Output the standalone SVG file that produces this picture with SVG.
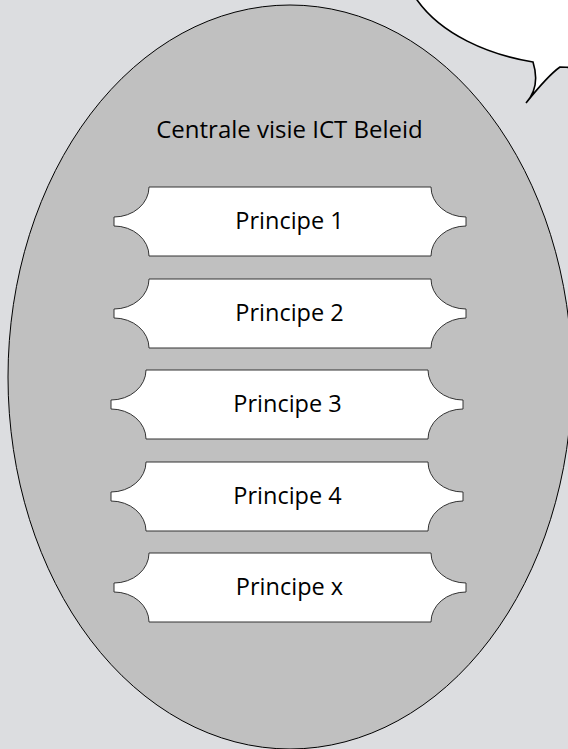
<svg xmlns="http://www.w3.org/2000/svg" xmlns:xlink="http://www.w3.org/1999/xlink" width="568" height="749" viewBox="0 0 568 749">
  <style>
    .bg { fill: #dcdde0; }
    .oval { fill: #c0c0c0; stroke: #000000; stroke-width: 1; }
    .bubble { fill: #ffffff; stroke: #000000; stroke-width: 1.6; stroke-linejoin: miter; }
    .plaque { fill: #ffffff; stroke: #333333; stroke-width: 1; }
    .lbl { font-family: "Open Sans", "Noto Sans", "Liberation Sans", sans-serif; font-size: 23.5px; fill: #000000; text-anchor: middle; }
    .title { font-size: 24px; }
  </style>
  <defs>
    <path id="plaqueShape" d="M35,0 H317 A35 30 0 0 0 352 30 V39 A35 30 0 0 0 317 69 H35 A35 30 0 0 0 0 39 V30 A35 30 0 0 0 35 0 Z"/>
  </defs>
  <rect class="bg" x="0" y="0" width="568" height="749"/>
  <g id="vision">
    <ellipse class="oval" cx="290" cy="377" rx="282" ry="372"/>
    <text class="lbl title" x="289.5" y="137.5">Centrale visie ICT Beleid</text>
  </g>
  <g id="callout">
    <path class="bubble" d="M415,-3 C440,35 490,55 533,62 C538,78 536,92 526,103 C538,88 550,74 560,67 C563,67 566,67.3 572,67.6 L572,-3 Z"/>
  </g>
  <g id="principe-1">
    <use xlink:href="#plaqueShape" class="plaque" transform="translate(114,187)"/>
    <text class="lbl" x="289.5" y="229">Principe 1</text>
  </g>
  <g id="principe-2">
    <use xlink:href="#plaqueShape" class="plaque" transform="translate(114,279)"/>
    <text class="lbl" x="289.5" y="321">Principe 2</text>
  </g>
  <g id="principe-3">
    <use xlink:href="#plaqueShape" class="plaque" transform="translate(111,370)"/>
    <text class="lbl" x="287.5" y="412">Principe 3</text>
  </g>
  <g id="principe-4">
    <use xlink:href="#plaqueShape" class="plaque" transform="translate(111,462)"/>
    <text class="lbl" x="287.5" y="504">Principe 4</text>
  </g>
  <g id="principe-x">
    <use xlink:href="#plaqueShape" class="plaque" transform="translate(114,553)"/>
    <text class="lbl" x="289.5" y="595">Principe x</text>
  </g>
  <g id="connectors"/>
</svg>
